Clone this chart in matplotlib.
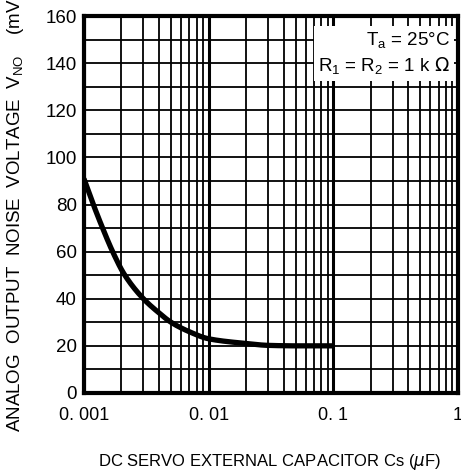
import numpy as np
import matplotlib
matplotlib.use('Agg')
import matplotlib.pyplot as plt
from matplotlib.ticker import FixedLocator, NullFormatter

plt.rcParams['font.family'] = ['Liberation Sans', 'DejaVu Sans']

# capacitance (uF) vs output noise voltage (mVrms)
cap = [0.001, 0.0012, 0.0014, 0.0017, 0.0021, 0.003, 0.004, 0.005, 0.007, 0.01, 0.02, 0.03, 0.05, 0.1]
noise = [91, 79.5, 70.5, 60, 50.5, 40, 34, 30, 26, 23, 21, 20.2, 20, 20]

xticks = [0.001, 0.01, 0.1, 1]
xtick_labels = ['0. 001', '0. 01', '0. 1', '1']
yticks = [0, 20, 40, 60, 80, 100, 120, 140, 160]


def pchip(x, y, xn):
    # monotone cubic through the read points, just to draw a smooth line
    x = np.asarray(x, float)
    y = np.asarray(y, float)
    h = np.diff(x)
    d = np.diff(y) / h
    m = np.zeros_like(y)
    for i in range(1, len(y) - 1):
        if d[i - 1] * d[i] > 0:
            w1 = 2 * h[i] + h[i - 1]
            w2 = h[i] + 2 * h[i - 1]
            m[i] = (w1 + w2) / (w1 / d[i - 1] + w2 / d[i])
    m[0] = d[0]
    m[-1] = d[-1]
    idx = np.clip(np.searchsorted(x, xn) - 1, 0, len(h) - 1)
    t = (xn - x[idx]) / h[idx]
    h00 = 2 * t**3 - 3 * t**2 + 1
    h10 = t**3 - 2 * t**2 + t
    h01 = -2 * t**3 + 3 * t**2
    h11 = t**3 - t**2
    return h00 * y[idx] + h10 * h[idx] * m[idx] + h01 * y[idx + 1] + h11 * h[idx] * m[idx + 1]


fig = plt.figure(figsize=(4.61, 4.74), dpi=100)
ax = fig.add_axes([0.182, 0.171, 0.8115, 0.795])

lx = np.log10(cap)
fine = np.linspace(lx[0], lx[-1], 400)
ax.plot(10 ** fine, pchip(lx, noise, fine), color='black', lw=3.8, solid_capstyle='butt', zorder=3)

ax.set_xscale('log')
ax.set_xlim(0.001, 1)
ax.set_ylim(0, 160)

ax.set_xticks(xticks)
ax.set_xticklabels(xtick_labels)
ax.set_yticks(yticks)
ax.xaxis.set_minor_locator(FixedLocator([m * d for d in [0.001, 0.01, 0.1] for m in range(2, 10)]))
ax.xaxis.set_minor_formatter(NullFormatter())
ax.yaxis.set_minor_locator(FixedLocator(range(10, 160, 20)))

ax.grid(True, which='major', axis='x', color='black', lw=2.2)
ax.grid(True, which='minor', axis='x', color='black', lw=1.3)
ax.grid(True, which='both', axis='y', color='black', lw=1.3)

ax.tick_params(axis='both', which='both', length=0)
ax.tick_params(axis='x', pad=10, labelsize=13)
ax.tick_params(axis='y', pad=5, labelsize=13.5)
for s in ax.spines.values():
    s.set_linewidth(3)

ax.text(0.978, 0.962,
        'T$_\\mathregular{a}$ = 25°C\nR$_\\mathregular{1}$ = R$_\\mathregular{2}$ = 1 k $\\Omega$',
        transform=ax.transAxes, ha='right', va='top', fontsize=13.5, linespacing=1.3,
        bbox=dict(facecolor='white', edgecolor='none', pad=3), zorder=4)

fig.text(0.033, 1 - 432 / 474, 'ANALOG  OUTPUT  NOISE  VOLTAGE  V$_\\mathregular{NO}$    (mVrms)',
         rotation=90, ha='center', va='bottom', fontsize=13.5)
fig.text(270 / 461, 1 - 462 / 474, 'DC SERVO EXTERNAL CAPACITOR Cs ($\\mu$F)',
         ha='center', va='center', fontsize=12)

fig.savefig('out.png', dpi=100)
